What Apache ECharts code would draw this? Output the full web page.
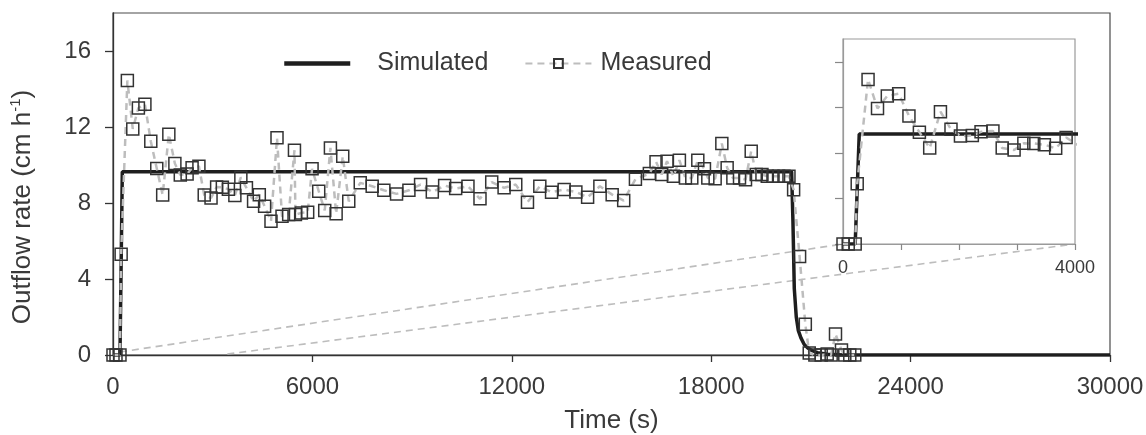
<!DOCTYPE html>
<html>
<head>
<meta charset="utf-8">
<script src="https://cdn.jsdelivr.net/npm/echarts@6/dist/echarts.min.js"></script>
<style>html,body{margin:0;padding:0;background:#fff}#c{width:1146px;height:435px}</style>
</head>
<body>
<div id="c"></div>
<script>
// ---- data ----
const measuredT = [0, 90, 210, 245, 432, 595, 764, 960, 1137, 1317, 1495, 1680, 1862, 2025, 2230, 2380, 2585, 2745, 2950, 3118, 3290, 3472, 3667, 3847, 4015, 4230, 4402, 4562, 4754, 4935, 5086, 5286, 5460, 5490, 5668, 5858, 5990, 6190, 6371, 6542, 6714, 6913, 7094, 7440, 7799, 8150, 8532, 8904, 9255, 9608, 9979, 10311, 10681, 11043, 11396, 11768, 12119, 12472, 12843, 13196, 13576, 13928, 14281, 14650, 15020, 15367, 15720, 16139, 16340, 16511, 16671, 16862, 17043, 17224, 17416, 17597, 17797, 17898, 18119, 18320, 18480, 18652, 18852, 19032, 19204, 19355, 19527, 19687, 19859, 20027, 20190, 20340, 20480, 20660, 20832, 20950, 21120, 21310, 21490, 21610, 21740, 21920, 22020, 22170, 22320];
const measuredV = [0, 0, 0, 5.3, 14.45, 11.9, 13.0, 13.2, 11.25, 9.82, 8.42, 11.62, 10.08, 9.48, 9.52, 9.85, 9.93, 8.42, 8.26, 8.84, 8.83, 8.72, 8.4, 9.35, 8.8, 8.09, 8.44, 7.83, 7.04, 11.43, 7.3, 7.39, 10.78, 7.39, 7.48, 7.51, 9.8, 8.62, 7.61, 10.9, 7.44, 10.46, 8.09, 9.06, 8.88, 8.67, 8.48, 8.67, 8.97, 8.58, 8.92, 8.76, 8.88, 8.22, 9.1, 8.8, 8.97, 8.04, 8.88, 8.57, 8.71, 8.58, 8.3, 8.88, 8.44, 8.13, 9.25, 9.55, 10.17, 9.5, 10.2, 9.41, 10.25, 9.32, 9.32, 10.25, 9.8, 9.32, 9.27, 11.13, 9.85, 9.32, 9.32, 9.23, 10.73, 9.5, 9.5, 9.41, 9.41, 9.41, 9.41, 9.41, 8.7, 5.19, 1.62, 0.1, 0, 0, 0.05, 0, 1.1, 0.26, 0, 0, 0];
const simT = [0, 210, 280, 20420, 20460, 20500, 20560, 20620, 20700, 20800, 20900, 21000, 21200, 21500, 22000, 30000];
const simV = [0, 0, 9.65, 9.65, 7, 3.5, 2, 1.3, 0.9, 0.55, 0.38, 0.26, 0.12, 0.04, 0, 0];
const yTicks = [0, 4, 8, 12, 16];
const xTicksMain = [0, 6000, 12000, 18000, 24000, 30000];
const xTicksInset = [0, 1000, 2000, 3000, 4000];
const xLabelsInset = [0, 4000];
// connector lines: [main-grid point, inset-grid point]
const connectors = [
  [[210, 0.16], [0, 0]],
  [[3440, 0.05], [4000, 0]]
];

const measured = measuredT.map((t, i) => [t, measuredV[i]]);
const simulated = simT.map((t, i) => [t, simV[i]]);

const FONT = 'Liberation Sans, Arial, sans-serif';
const TXT = '#3a3a3a';
const plain = v => String(v);

const chart = echarts.init(document.getElementById('c'), null, {renderer: 'canvas'});

const simStyle = {color: '#1e1e1e', width: 3.5};
const measLine = {color: '#bdbdbd', width: 2.5, type: [7, 5]};
const measItem = {color: 'rgba(255,255,255,0)', borderColor: '#333', borderWidth: 1.5};

chart.setOption({
  animation: false,
  backgroundColor: '#fff',
  textStyle: {fontFamily: FONT, color: TXT},
  legend: {
    left: 277, top: 46,
    itemWidth: 66, itemHeight: 11, itemGap: 36,
    textStyle: {fontSize: 25, color: TXT, fontFamily: FONT},
    data: [
      {name: 'Simulated', itemStyle: {opacity: 0}, lineStyle: {width: 4.5, color: '#1e1e1e'}, textStyle: {padding: [0, 0, 0, 22]}},
      {name: 'Measured', textStyle: {padding: [0, 0, 0, 4]}}
    ]
  },
  grid: [
    {left: 113, top: 13, right: 36, bottom: 80, outerBoundsMode: 'none', containLabel: false,
     show: true, borderColor: '#4a4a4a', borderWidth: 1.2},
    {left: 843, top: 39, right: 71, bottom: 191, outerBoundsMode: 'none', containLabel: false,
     show: true, borderColor: '#9a9a9a', borderWidth: 1.2, backgroundColor: '#fff', z: 5}
  ],
  xAxis: [
    {
      gridIndex: 0, type: 'value', min: 0, max: 30000,
      name: 'Time (s)', nameLocation: 'middle', nameGap: 53,
      nameTextStyle: {fontSize: 26, color: TXT, fontFamily: FONT},
      axisLine: {lineStyle: {color: '#333', width: 1.3}},
      axisTick: {customValues: xTicksMain, length: 7, lineStyle: {color: '#333', width: 1.3}},
      axisLabel: {customValues: xTicksMain, formatter: plain, fontSize: 24, color: TXT, margin: 20, fontFamily: FONT},
      splitLine: {show: false}
    },
    {
      gridIndex: 1, type: 'value', min: 0, max: 4000,
      axisLine: {lineStyle: {color: '#9a9a9a', width: 1.2}},
      axisTick: {customValues: xTicksInset, length: 6, lineStyle: {color: '#888', width: 1.2}},
      axisLabel: {customValues: xLabelsInset, formatter: plain, fontSize: 18, color: TXT, margin: 15, fontFamily: FONT},
      splitLine: {show: false}, z: 6
    }
  ],
  yAxis: [
    {
      gridIndex: 0, type: 'value', min: 0, max: 18,
      name: 'Outflow rate (cm h{sup|-1})', nameLocation: 'middle', nameGap: 75,
      nameTextStyle: {fontSize: 26, color: TXT, fontFamily: FONT, padding: [0, 46, 0, 0],
        rich: {sup: {fontSize: 15, color: TXT, fontFamily: FONT, verticalAlign: 'top', lineHeight: 30}}},
      axisLine: {show: true, lineStyle: {color: '#333', width: 1.3}},
      axisTick: {show: true, customValues: yTicks, length: 8, lineStyle: {color: '#333', width: 1.3}},
      axisLabel: {customValues: yTicks, formatter: plain, fontSize: 24, color: TXT, margin: 22, fontFamily: FONT},
      splitLine: {show: false}
    },
    {
      gridIndex: 1, type: 'value', min: 0, max: 18,
      axisLine: {show: true, lineStyle: {color: '#9a9a9a', width: 1.2}},
      axisTick: {show: true, customValues: yTicks, length: 8, lineStyle: {color: '#888', width: 1.2}},
      axisLabel: {show: false},
      splitLine: {show: false}, z: 6
    }
  ],
  series: [
    {
      name: 'Simulated', type: 'line', xAxisIndex: 0, yAxisIndex: 0,
      data: simulated, showSymbol: false, symbol: 'none',
      lineStyle: simStyle, itemStyle: {color: '#1e1e1e'}, z: 2
    },
    {
      name: 'Measured', type: 'line', xAxisIndex: 0, yAxisIndex: 0,
      data: measured, symbol: 'rect', symbolSize: 12, showAllSymbol: true,
      lineStyle: measLine, itemStyle: measItem, z: 3
    },
    {
      name: 'Simulated', type: 'line', xAxisIndex: 1, yAxisIndex: 1,
      data: simulated, showSymbol: false, symbol: 'none', clip: true,
      lineStyle: simStyle, itemStyle: {color: '#1e1e1e'}, z: 7
    },
    {
      name: 'Measured', type: 'line', xAxisIndex: 1, yAxisIndex: 1,
      data: measured, symbol: 'rect', symbolSize: 12, showAllSymbol: true, clip: true,
      lineStyle: measLine, itemStyle: measItem, z: 8
    }
  ]
});

// connector dashed lines between the main plot and the inset
const lines = connectors.map(c => {
  const p0 = chart.convertToPixel({gridIndex: 0}, c[0]);
  const p1 = chart.convertToPixel({gridIndex: 1}, c[1]);
  return {
    type: 'line', z: 1, silent: true,
    shape: {x1: p0[0], y1: p0[1], x2: p1[0], y2: p1[1]},
    style: {stroke: '#bdbdbd', lineWidth: 1.6, lineDash: [7, 5]}
  };
});
chart.setOption({graphic: lines});
</script>
</body>
</html>
